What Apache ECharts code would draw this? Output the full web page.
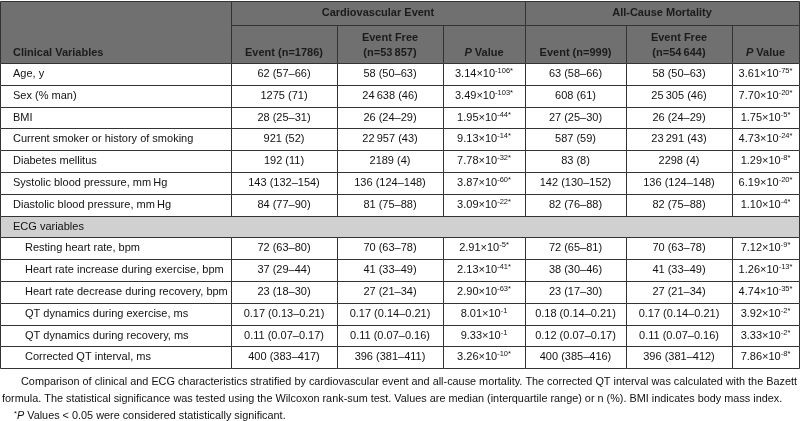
<!DOCTYPE html>
<html><head><meta charset="utf-8">
<script src="https://cdn.jsdelivr.net/npm/echarts@6/dist/echarts.min.js"></script>
<style>html,body{margin:0;padding:0;background:#fff}#c{width:800px;height:421px}</style>
</head><body><div id="c"></div>
<script>
// ---------- DATA ----------
const clinicalVars = ['Age, y', 'Sex (% man)', 'BMI', 'Current smoker or history of smoking', 'Diabetes mellitus',
  'Systolic blood pressure, mm\u2009Hg', 'Diastolic blood pressure, mm\u2009Hg'];
const sectionLabel = 'ECG variables';
const ecgVars = ['Resting heart rate, bpm', 'Heart rate increase during exercise, bpm', 'Heart rate decrease during recovery, bpm',
  'QT dynamics during exercise, ms', 'QT dynamics during recovery, ms', 'Corrected QT interval, ms'];
const groupHeaders = ['Cardiovascular Event', 'All-Cause Mortality'];
const subHeaders = ['Event (n=1786)', 'Event Free\n(n=53\u2009857)', '{ib|P} Value', 'Event (n=999)', 'Event Free\n(n=54\u2009644)', '{ib|P} Value'];
const firstHeader = 'Clinical Variables';
const cvEvent = ['62 (57–66)', '1275 (71)', '28 (25–31)', '921 (52)', '192 (11)', '143 (132–154)', '84 (77–90)',
  '72 (63–80)', '37 (29–44)', '23 (18–30)', '0.17 (0.13–0.21)', '0.11 (0.07–0.17)', '400 (383–417)'];
const cvFree = ['58 (50–63)', '24\u2009638 (46)', '26 (24–29)', '22\u2009957 (43)', '2189 (4)', '136 (124–148)', '81 (75–88)',
  '70 (63–78)', '41 (33–49)', '27 (21–34)', '0.17 (0.14–0.21)', '0.11 (0.07–0.16)', '396 (381–411)'];
const cvP = ['3.14×10^-106*', '3.49×10^-103*', '1.95×10^-44*', '9.13×10^-14*', '7.78×10^-32*', '3.87×10^-60*', '3.09×10^-22*',
  '2.91×10^-5*', '2.13×10^-41*', '2.90×10^-63*', '8.01×10^-1', '9.33×10^-1', '3.26×10^-10*'];
const acEvent = ['63 (58–66)', '608 (61)', '27 (25–30)', '587 (59)', '83 (8)', '142 (130–152)', '82 (76–88)',
  '72 (65–81)', '38 (30–46)', '23 (17–30)', '0.18 (0.14–0.21)', '0.12 (0.07–0.17)', '400 (385–416)'];
const acFree = ['58 (50–63)', '25\u2009305 (46)', '26 (24–29)', '23\u2009291 (43)', '2298 (4)', '136 (124–148)', '82 (75–88)',
  '70 (63–78)', '41 (33–49)', '27 (21–34)', '0.17 (0.14–0.21)', '0.11 (0.07–0.16)', '396 (381–412)'];
const acP = ['3.61×10^-75*', '7.70×10^-20*', '1.75×10^-5*', '4.73×10^-24*', '1.29×10^-8*', '6.19×10^-20*', '1.10×10^-4*',
  '7.12×10^-9*', '1.26×10^-13*', '4.74×10^-35*', '3.92×10^-2*', '3.33×10^-2*', '7.86×10^-8*'];
const footLines = [
  'Comparison of clinical and ECG characteristics stratified by cardiovascular event and all-cause mortality. The corrected QT interval was calculated with the Bazett',
  'formula. The statistical significance was tested using the Wilcoxon rank-sum test. Values are median (interquartile range) or n (%). BMI indicates body mass index.',
  '{sa|*}{it|P} Values < 0.05 were considered statistically significant.'
];

// ---------- LAYOUT ----------
const colEdges = [0, 231, 337, 443, 525, 626, 732, 799];
const topY = 1, groupBottom = 25, headBottom = 63, rowH = 21.8;
const HEAD_BG = '#707070', SEC_BG = '#d0d0d0', LINE = '#333', TXT = '#111';
const FONT = "'Liberation Sans', Arial, sans-serif";

function supText(s) {
  const i = s.indexOf('^');
  return i < 0 ? s : s.slice(0, i) + '{sup|' + s.slice(i + 1) + '}';
}

const cells = [];
cells.push({ x0: colEdges[0], x1: colEdges[1], y0: topY, y1: headBottom, text: firstHeader, align: 'left', pad: 13, ty: 53, fill: HEAD_BG, bold: true });
groupHeaders.forEach((g, k) => {
  cells.push({ x0: colEdges[1 + 3 * k], x1: colEdges[4 + 3 * k], y0: topY, y1: groupBottom, text: g, align: 'center', fill: HEAD_BG, bold: true });
});
subHeaders.forEach((s, k) => {
  const two = s.indexOf('\n') >= 0;
  cells.push({ x0: colEdges[1 + k], x1: colEdges[2 + k], y0: groupBottom, y1: headBottom, text: s, align: 'center', ty: two ? 45.5 : 53, lh: 15, fill: HEAD_BG, bold: true });
});
const valueCols = [cvEvent, cvFree, cvP, acEvent, acFree, acP];
let r = 0;
function addRow(label, idx, indent) {
  const y0 = headBottom + r * rowH, y1 = y0 + rowH;
  cells.push({ x0: colEdges[0], x1: colEdges[1], y0, y1, text: label, align: 'left', pad: indent ? 25 : 13, fill: '#fff' });
  valueCols.forEach((col, k) => {
    const t = (k === 2 || k === 5) ? supText(col[idx]) : col[idx];
    cells.push({ x0: colEdges[1 + k], x1: colEdges[2 + k], y0, y1, text: t, align: 'center', fill: '#fff' });
  });
  r++;
}
clinicalVars.forEach((v, i) => addRow(v, i, false));
(function () {
  const y0 = headBottom + r * rowH;
  cells.push({ x0: colEdges[0], x1: colEdges[colEdges.length - 1], y0, y1: y0 + rowH, text: sectionLabel, align: 'left', pad: 13, fill: SEC_BG });
  r++;
})();
ecgVars.forEach((v, i) => addRow(v, clinicalVars.length + i, true));

function renderItem(params, api) {
  const c = cells[params.dataIndex];
  const p0 = api.coord([api.value(0), api.value(1)]);
  const p1 = api.coord([api.value(2), api.value(3)]);
  const x0 = Math.round(p0[0]) + 0.5, y0 = Math.round(p0[1]) + 0.5;
  const x1 = Math.round(p1[0]) + 0.5, y1 = Math.round(p1[1]) + 0.5;
  const ty = c.ty != null ? api.coord([0, c.ty])[1] : (p0[1] + p1[1]) / 2;
  const tx = c.align === 'left' ? p0[0] + c.pad : (p0[0] + p1[0]) / 2;
  return {
    type: 'group',
    children: [
      { type: 'rect', shape: { x: x0, y: y0, width: x1 - x0, height: y1 - y0 }, style: { fill: c.fill, stroke: LINE, lineWidth: 1 } },
      { type: 'text', z2: 10, style: {
          text: c.text, x: tx, y: ty, align: c.align, verticalAlign: 'middle',
          fill: c.bold ? '#1b1b1b' : TXT, fontFamily: FONT, fontSize: 11, fontWeight: c.bold ? 'bold' : 'normal',
          lineHeight: c.lh || 14,
          rich: {
            sup: { fontSize: 7.5, lineHeight: 7, verticalAlign: 'top', fontFamily: FONT, fill: TXT },
            ib: { fontStyle: 'italic', fontWeight: 'bold', fontSize: 11, fontFamily: FONT, fill: '#1b1b1b', lineHeight: c.lh || 14 }
          }
      } }
    ]
  };
}

// footnote: condensed look via horizontal scaling to the reference line width
const footSize = 11.5;
const mctx = document.createElement('canvas').getContext('2d');
mctx.font = footSize + "px 'Liberation Sans'";
const footScale = 776 / mctx.measureText(footLines[0]).width;
const footX = [21, 2, 14], footY = [382, 399, 416];

const chart = echarts.init(document.getElementById('c'), null, { renderer: 'canvas' });
chart.setOption({
  animation: false,
  grid: { left: 0, right: 0, top: 0, bottom: 0 },
  xAxis: { type: 'value', min: 0, max: 800, show: false },
  yAxis: { type: 'value', min: 0, max: 421, inverse: true, show: false },
  series: [{
    type: 'custom', coordinateSystem: 'cartesian2d', clip: false,
    renderItem,
    data: cells.map(c => [c.x0, c.y0, c.x1, c.y1]),
    encode: { x: [0, 2], y: [1, 3] }
  }],
  graphic: footLines.map((t, i) => ({
    type: 'text', x: footX[i], y: footY[i], scaleX: footScale, scaleY: 1,
    style: { text: t, x: 0, y: 0, verticalAlign: 'middle', fill: TXT, fontFamily: FONT, fontSize: footSize,
      rich: { it: { fontStyle: 'italic', fontFamily: FONT, fontSize: footSize, fill: TXT },
              sa: { fontSize: 8, fontFamily: FONT, fill: TXT, verticalAlign: 'top', lineHeight: 8 } } }
  }))
});
</script></body></html>
